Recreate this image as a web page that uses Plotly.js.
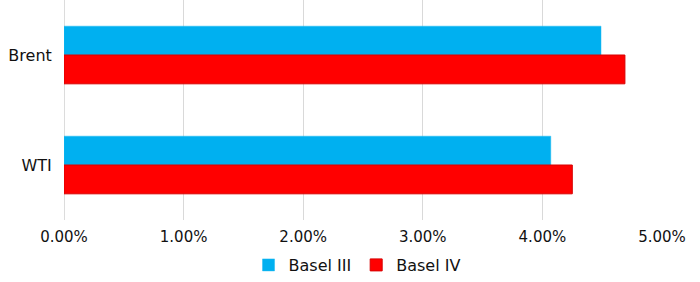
<!DOCTYPE html>
<html>
<head>
<meta charset="utf-8">
<script src="https://cdn.plot.ly/plotly-3.0.1.min.js"></script>
<style>
html,body{margin:0;padding:0;background:#fff;}
#chart{width:700px;height:282px;}
</style>
</head>
<body>
<div id="chart"></div>
<script>
const categories = ['Brent', 'WTI'];
const seriesNames = ['Basel III', 'Basel IV'];
const baselIII = [0.0449, 0.0407];
const baselIV = [0.0469, 0.0425];
const xTickValues = [0, 0.01, 0.02, 0.03, 0.04, 0.05];

const fam = 'DejaVu Sans, Verdana, sans-serif';

const traces = [
  {
    type: 'bar', orientation: 'h', name: seriesNames[0],
    y: categories, x: baselIII,
    marker: {color: '#00B0F0', line: {color: '#1fbaf2', width: 0.5}},
    hoverinfo: 'x+name'
  },
  {
    type: 'bar', orientation: 'h', name: seriesNames[1],
    y: categories, x: baselIV,
    marker: {color: '#FF0000', line: {color: '#d80000', width: 1}},
    hoverinfo: 'x+name'
  }
];

const layout = {
  width: 700, height: 282,
  margin: {l: 64, r: 38, t: 0, b: 59, pad: 0},
  paper_bgcolor: '#fff', plot_bgcolor: '#fff',
  font: {family: fam, size: 15, color: '#111'},
  barmode: 'group',
  bargap: 0.476,
  bargroupgap: 0,
  showlegend: true,
  legend: {
    orientation: 'h', x: 0.49, xanchor: 'center', xref: 'paper',
    y: -0.205, yanchor: 'middle', yref: 'paper',
    font: {family: fam, size: 16, color: '#111'},
    itemwidth: 30, traceorder: 'normal'
  },
  xaxis: {
    range: [0, 0.05],
    tickvals: xTickValues,
    tickformat: '.2%',
    showgrid: true, gridcolor: '#d9d9d9', gridwidth: 1.3,
    zeroline: true, zerolinecolor: '#dcdcdc', zerolinewidth: 1,
    showline: false,
    ticks: 'outside', ticklen: 3, tickcolor: 'rgba(0,0,0,0)',
    tickfont: {family: fam, size: 15, color: '#111'},
    fixedrange: true
  },
  yaxis: {
    type: 'category',
    autorange: 'reversed',
    showgrid: false, zeroline: false, showline: false,
    ticks: 'outside', ticklen: 8, tickcolor: 'rgba(0,0,0,0)',
    tickfont: {family: fam, size: 16, color: '#111'},
    fixedrange: true
  }
};

Plotly.newPlot('chart', traces, layout, {displayModeBar: false, staticPlot: true});
</script>
</body>
</html>
